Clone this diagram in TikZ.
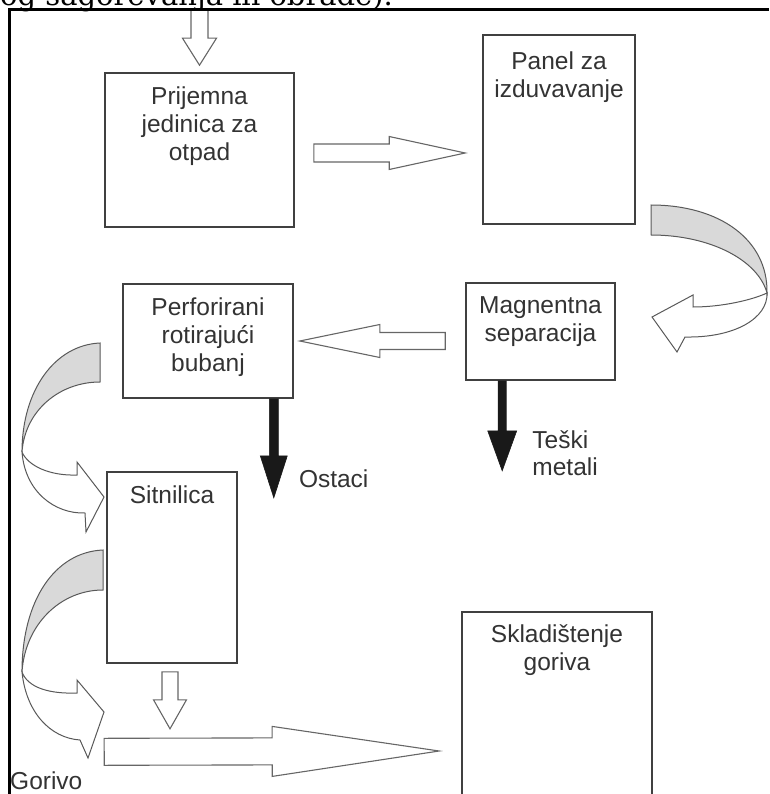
\documentclass[tikz,border=0pt]{standalone}
\usepackage{fontspec}
\setmainfont{Liberation Sans}
\newfontfamily\titlefont{DejaVu Serif}
\usetikzlibrary{calc,positioning}

% block arrow: [style]{from}{to}{shaft half width}{head half width}{head length}
\newcommand\blockarrow[6][]{%
  \path #2 coordinate (ba-s) #3 coordinate (ba-t);
  \path ($(ba-t)!#6!(ba-s)$) coordinate (ba-h);
  \draw[#1] ($(ba-s)!#4!90:(ba-t)$) -- ($(ba-h)!#4!-90:(ba-s)$) -- ($(ba-h)!#5!-90:(ba-s)$)
    -- (ba-t) -- ($(ba-h)!#5!90:(ba-s)$) -- ($(ba-h)!#4!90:(ba-s)$) -- ($(ba-s)!#4!-90:(ba-t)$) -- cycle;}

\begin{document}
\begin{tikzpicture}[x=1pt,y=-1pt]
    \tikzstyle{box}=[draw=black!75,line width=1.6pt,inner sep=0pt]
    \tikzstyle{boxtext}=[align=center,text=black!80,inner sep=3pt,font=\fontsize{24.5}{28}\selectfont]
    \tikzstyle{outtext}=[align=left,text=black!80,inner sep=3pt,font=\fontsize{24.5}{27}\selectfont]
    \tikzstyle{hollow}=[draw=black!60,line width=1.1pt,fill=white]
    \tikzstyle{blackarrow}=[draw=black!90,fill=black!90,line width=0.6pt]
    \tikzstyle{ribbon}=[draw=black!65,line width=1pt]

    \useasboundingbox (0,0) rectangle (769,794);
    \clip (0,0) rectangle (769,794);

    % text cut off above the frame
    \node[anchor=base west,inner sep=0pt,text=black,font=\titlefont\fontsize{29}{30}\selectfont] (caption) at (0,6) {og sagorevanja ili obrade).};

    % process boxes
    \node[box,minimum width=189pt,minimum height=154pt] (prijem) at (199.5,150) {};
    \node[box,minimum width=152pt,minimum height=189pt] (panel) at (559,129.5) {};
    \node[box,minimum width=149pt,minimum height=97pt] (magn) at (540.5,331.5) {};
    \node[box,minimum width=170pt,minimum height=114pt] (perfor) at (208,341) {};
    \node[box,minimum width=130pt,minimum height=191pt] (sitn) at (172,567.5) {};
    \node[box,minimum width=190pt,minimum height=222pt] (skl) at (557,723) {};

    % box texts
    \node[boxtext,below=11pt of prijem.north] (prijem-t) {Prijemna\\jedinica za\\otpad};
    \node[boxtext,below=14pt of panel.north] (panel-t) {Panel za\\izduvavanje};
    \node[boxtext,below=11pt of magn.north] (magn-t) {Magnentna\\separacija};
    \node[boxtext,below=11pt of perfor.north] (perfor-t) {Perforirani\\rotirajući\\bubanj};
    \node[boxtext,below=11pt of sitn.north] (sitn-t) {Sitnilica};
    \node[boxtext,below=10pt of skl.north] (skl-t) {Skladištenje\\goriva};

    % straight hollow arrows
    \blockarrow[hollow]{($(prijem.north)+(0,-63)$)}{($(prijem.north)+(0,-7)$)}{8.5pt}{17pt}{27pt}
    \blockarrow[hollow]{($(prijem.east)+(19,3)$)}{($(panel.west)+(-17,23.5)$)}{9pt}{16.5pt}{76pt}
    \blockarrow[hollow]{($(magn.west)+(-20,9.5)$)}{($(perfor.east)+(6,0)$)}{8.5pt}{16.5pt}{80pt}
    \blockarrow[hollow]{($(sitn.south)+(-2,8)$)}{($(sitn.south)+(-2,65)$)}{8pt}{16.5pt}{29pt}
    \blockarrow[hollow]{($(sitn.south west)+(-2,88)$)}{($(skl.west)+(-22,28)$)}{13.5pt}{25pt}{167pt}

    % waste outputs
    \blockarrow[blackarrow]{($(perfor.south east)+(-20,0)$)}{($(perfor.south east)+(-20,99)$)}{4.5pt}{13.5pt}{42pt}
    \blockarrow[blackarrow]{($(magn.south west)+(37,0)$)}{($(magn.south west)+(37,90)$)}{4pt}{14.5pt}{40pt}
    \node[outtext,anchor=west] (ostaci) at ($(perfor.south east)+(2,80)$) {Ostaci};
    \node[outtext,anchor=west] (metali) at ($(magn.south west)+(64,72)$) {Teški\\metali};
    \node[outtext,anchor=west] (gorivo) at (7,781) {Gorivo};

    % curved arrow from panel to separation
    \filldraw[ribbon,fill=black!15] (651,205) .. controls (720,205) and (768,240) .. (767,293)
      .. controls (758,260) and (710,235) .. (651,235) -- cycle;
    \filldraw[ribbon,fill=white] (767,293) .. controls (752,300) and (722,307) .. (693,307)
      -- (693,295) -- (652,317) -- (677,352) -- (685,337)
      .. controls (735,338) and (768,318) .. (767,293) -- cycle;

    % curved arrow from drum to shredder
    \filldraw[ribbon,fill=black!15] (100,343) .. controls (55,345) and (22,390) .. (22,452)
      .. controls (25,410) and (60,382) .. (100,382) -- cycle;
    \filldraw[ribbon,fill=white] (22,452) .. controls (28,466) and (50,476) .. (77,475)
      -- (77,462) -- (104,497) -- (86,532) -- (85,513)
      .. controls (55,514) and (25,492) .. (22,452) -- cycle;

    % curved arrow from shredder to fuel
    \filldraw[ribbon,fill=black!15] (103,550) .. controls (55,552) and (22,600) .. (22,672)
      .. controls (25,625) and (60,590) .. (103,590) -- cycle;
    \filldraw[ribbon,fill=white] (22,672) .. controls (28,688) and (50,694) .. (77,693)
      -- (77,680) -- (104,712) -- (88,758) -- (80,740)
      .. controls (50,738) and (26,712) .. (22,672) -- cycle;

    % frame
    \draw[line width=3pt] (9,794) -- (9,10) -- (769,10);
\end{tikzpicture}
\end{document}
